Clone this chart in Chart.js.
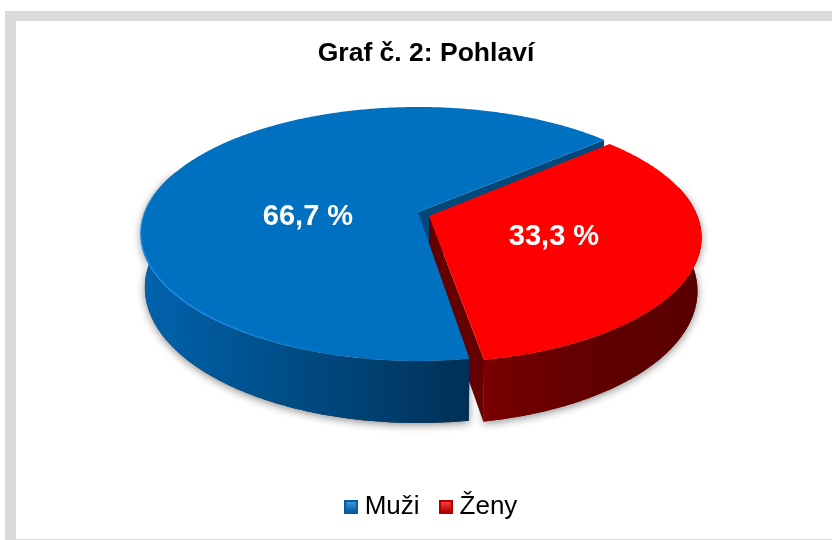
<!DOCTYPE html>
<html>
<head>
<meta charset="utf-8">
<style>
    html, body { margin: 0; padding: 0; background: #fff; overflow: hidden; }
    #frame { position: absolute; left: 5px; top: 11px; width: 827px; height: 529px; box-sizing: border-box;
             border-left: 11px solid #d9d9d9; border-top: 10px solid #d9d9d9; border-bottom: 1px solid #d9d9d9; }
    #wrap { position: absolute; left: 0; top: 0; width: 832px; height: 540px; }
</style>
<script src="https://cdn.jsdelivr.net/npm/chart.js@4"></script>
</head>
<body>
<div id="frame"></div>
<div id="wrap"><canvas id="pieChart" width="832" height="540"></canvas></div>
<script>
var titleTxt = "Graf č. 2: Pohlaví";
var categories = ["Muži", "Ženy"];
var shares = [66.7, 33.3];

var topColors = ["#0070c0", "#ff0000"];
var rimColors = ["#1d90e8", "#ff0000"];
var cutColors = ["#00477a", "#640000"];
var wallStops = [
    ["#0063ad", "#00528f", "#004274", "#003057"],
    ["#7c0000", "#680000", "#5e0000", "#5a0000"]
];
var boxColors = [["#3a9be0", "#0b5a9c"], ["#ff3a3a", "#b00000"]];

// perspective of the disc: x, y is the centre, a and b the half axes, k the tilt
var TOPFACE = { x: 418, y: 212, a: 273, b: 123.2, k: 0.173 };
var BOTTOMFACE = { x: 418, y: 264, a: 269, b: 131.5, k: 0.173 };
var PULLOUT = [{ x: 0, y: 0, r: 1, turn: 0 }, { x: 11, y: 4, r: 0.983, turn: -0.014 }];
var LABELPOS = [{ x: 308, y: 217 }, { x: 554, y: 237 }];
var ROTATION = 171;
var WARP = 0.035;  // rad, the view bends the angles a little
var WARPCENTER = (ROTATION - 90) * Math.PI / 180;

function project(face, slice, angle) {
    var t = angle + slice.turn + WARP * Math.sin(angle - WARPCENTER);
    var u = Math.cos(t), v = Math.sin(t);
    var w = 1 - face.k * v;
    return {
        x: face.x + slice.x + slice.r * face.a * u / w,
        y: face.y + slice.y + slice.r * face.b * v / w
    };
}

function arcPoints(face, slice, start, end) {
    var pts = [];
    var steps = Math.ceil(Math.abs(end - start) / 0.01);
    for (var i = 0; i <= steps; i++) {
        pts.push(project(face, slice, start + (end - start) * i / steps));
    }
    return pts;
}

function tracePath(ctx, pts) {
    ctx.beginPath();
    pts.forEach(function (p, i) {
        if (i == 0) ctx.moveTo(p.x, p.y);
        else ctx.lineTo(p.x, p.y);
    });
    ctx.closePath();
}

function wallPoints(slice, start, end) {
    return arcPoints(TOPFACE, slice, start, end).concat(arcPoints(BOTTOMFACE, slice, end, start));
}

function wallGradient(ctx, idx) {
    var x0 = idx == 0 ? 145 : 482;
    var x1 = idx == 0 ? 468 : 696;
    var g = ctx.createLinearGradient(x0, 0, x1, 0);
    var stops = wallStops[idx];
    stops.forEach(function (c, i) { g.addColorStop(i / (stops.length - 1), c); });
    return g;
}

function drawCut(ctx, s, idx, angle) {
    var t0 = project(TOPFACE, s.off, angle);
    var b0 = project(BOTTOMFACE, s.off, angle);
    tracePath(ctx, [
        { x: TOPFACE.x + s.off.x, y: TOPFACE.y + s.off.y }, t0, b0,
        { x: BOTTOMFACE.x + s.off.x, y: BOTTOMFACE.y + s.off.y }
    ]);
    ctx.fillStyle = cutColors[idx];
    ctx.fill();
}

// only the front part of a wall can be seen, the back would cover the cut faces
function menWall(s) {
    return wallPoints(s.off, s.start, Math.min(s.end, 1.1 * Math.PI));
}

function womenWall(s) {
    return wallPoints(s.off, Math.max(s.start, 2 * Math.PI - 0.2), s.end);
}

function drawTop(ctx, s, idx) {
    var top = arcPoints(TOPFACE, s.off, s.start, s.end);
    top.push({ x: TOPFACE.x + s.off.x, y: TOPFACE.y + s.off.y });
    tracePath(ctx, top);
    ctx.fillStyle = topColors[idx];
    ctx.fill();
}

// light rim on the front edge, fading out at both ends
function drawRim(ctx, s, idx) {
    var rim = arcPoints(TOPFACE, s.off, s.start + 0.4, s.start + 2.0);
    ctx.save();
    ctx.strokeStyle = rimColors[idx];
    ctx.lineWidth = 1.5;
    for (var n = 1; n < rim.length; n++) {
        ctx.globalAlpha = Math.sin(Math.PI * n / rim.length);
        ctx.beginPath();
        ctx.moveTo(rim[n - 1].x, rim[n - 1].y - 1);
        ctx.lineTo(rim[n].x, rim[n].y - 1);
        ctx.stroke();
    }
    ctx.restore();
}

const pie3d = {
    id: 'pie3d',
    afterLayout: function (chart) {
        // legend sits right of the title in the original
        chart.legend.left += 8;
        chart.legend.right += 8;
    },
    beforeDatasetsDraw: function (chart) {
        var ctx = chart.ctx;
        var arcs = chart.getDatasetMeta(0).data;
        var slices = arcs.map(function (arc, i) {
            return { start: arc.startAngle, end: arc.endAngle, off: PULLOUT[i] };
        });
        var men = slices[0], women = slices[1];

        // soft shadow under the walls
        ctx.save();
        ctx.shadowColor = "rgba(0,0,0,0.45)";
        ctx.shadowBlur = 9;
        ctx.shadowOffsetY = 2;
        ctx.fillStyle = "#333";
        [menWall(men), womenWall(women)].forEach(function (pts) {
            tracePath(ctx, pts);
            ctx.fill();
        });
        ctx.restore();

        // order as in the original: the blue top lies over the red cut face
        drawCut(ctx, men, 0, men.end);
        drawCut(ctx, women, 1, women.end);
        tracePath(ctx, womenWall(women));
        ctx.fillStyle = wallGradient(ctx, 1);
        ctx.fill();
        tracePath(ctx, menWall(men));
        ctx.fillStyle = wallGradient(ctx, 0);
        ctx.fill();
        drawTop(ctx, men, 0);
        drawRim(ctx, men, 0);
        drawTop(ctx, women, 1);

        ctx.save();
        ctx.fillStyle = "#fff";
        ctx.font = "bold 29px 'Liberation Sans'";
        ctx.textAlign = "center";
        ctx.textBaseline = "middle";
        shares.forEach(function (val, i) {
            ctx.fillText(val.toFixed(1).replace(".", ",") + " %", LABELPOS[i].x, LABELPOS[i].y);
        });
        ctx.restore();
        return false;
    }
};

function makeBox(colors) {
    var c = document.createElement("canvas");
    c.width = 14;
    c.height = 14;
    var x = c.getContext("2d");
    x.fillStyle = colors[1];
    x.fillRect(0, 0, 14, 14);
    var g = x.createLinearGradient(0, 2, 0, 12);
    g.addColorStop(0, colors[0]);
    g.addColorStop(1, colors[1]);
    x.fillStyle = g;
    x.fillRect(2, 2, 10, 10);
    return c;
}

function legendLabels(chart) {
    return categories.map(function (name, i) {
        return {
            text: name,
            fillStyle: topColors[i],
            strokeStyle: topColors[i],
            lineWidth: 0,
            pointStyle: makeBox(boxColors[i]),
            hidden: false,
            index: i
        };
    });
}

const config = {
    type: 'pie',
    data: {
        labels: categories,
        datasets: [{ data: shares, backgroundColor: topColors, borderWidth: 0 }]
    },
    plugins: [pie3d],
    options: {
        responsive: false,
        animation: false,
        rotation: ROTATION,
        layout: { padding: { left: 20, top: 38, bottom: 10 } },
        plugins: {
            title: {
                display: true,
                text: titleTxt,
                color: "#000",
                font: { family: "'Liberation Sans'", size: 26.5, weight: 'bold', lineHeight: 1.2 },
                padding: 0
            },
            legend: {
                position: 'bottom',
                labels: {
                    color: "#000",
                    font: { family: "'Liberation Sans'", size: 26 },
                    usePointStyle: true,
                    pointStyleWidth: 1,
                    padding: 26,
                    generateLabels: legendLabels
                }
            },
            tooltip: { enabled: false }
        }
    }
};

var pieChart = new Chart(document.getElementById("pieChart"), config);
</script>
</body>
</html>
